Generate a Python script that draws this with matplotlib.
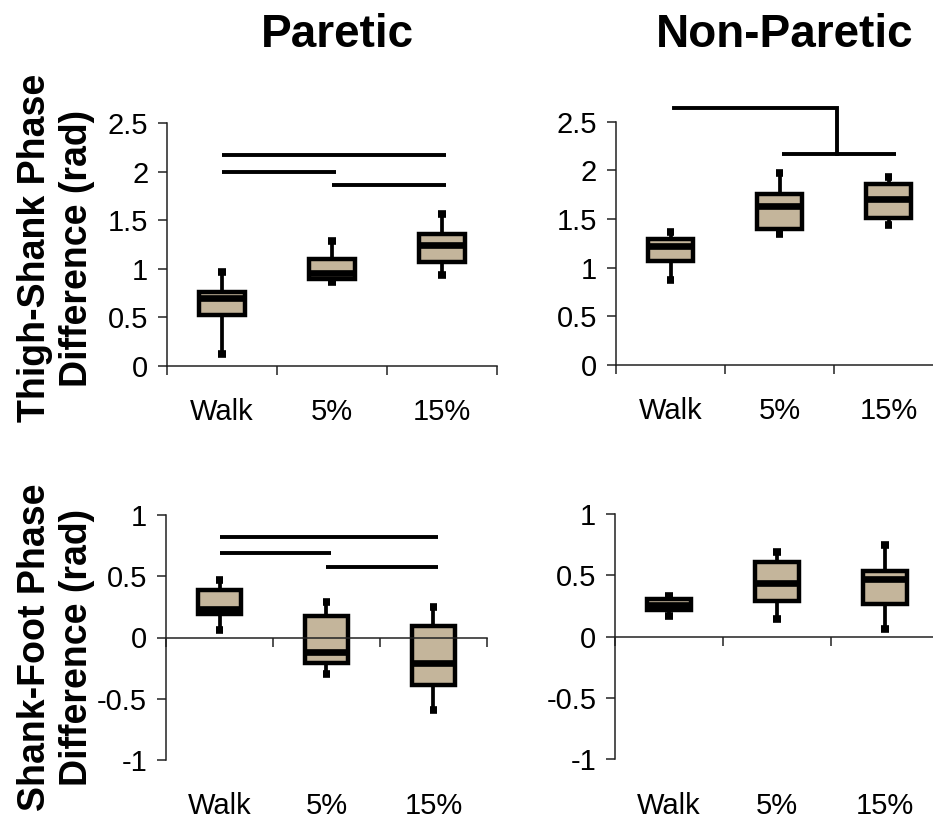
import matplotlib
matplotlib.use("Agg")
import matplotlib.pyplot as plt

plt.rcParams['font.family'] = ['Liberation Sans', 'DejaVu Sans']

# ---------------- data ----------------
conditions = ['Walk', '5%', '15%']

# box stats: (whislo, q1, median, q3, whishi)
ts_paretic_lo = [0.12, 0.86, 0.94]
ts_paretic_q1 = [0.52, 0.89, 1.07]
ts_paretic_med = [0.70, 0.96, 1.24]
ts_paretic_q3 = [0.76, 1.10, 1.36]
ts_paretic_hi = [0.97, 1.29, 1.56]

ts_nonparetic_lo = [0.87, 1.345, 1.44]
ts_nonparetic_q1 = [1.07, 1.40, 1.51]
ts_nonparetic_med = [1.22, 1.63, 1.71]
ts_nonparetic_q3 = [1.295, 1.755, 1.86]
ts_nonparetic_hi = [1.37, 1.97, 1.93]

sf_paretic_lo = [0.06, -0.30, -0.59]
sf_paretic_q1 = [0.19, -0.21, -0.39]
sf_paretic_med = [0.23, -0.12, -0.21]
sf_paretic_q3 = [0.39, 0.175, 0.09]
sf_paretic_hi = [0.47, 0.29, 0.25]

sf_nonparetic_lo = [0.17, 0.14, 0.063]
sf_nonparetic_q1 = [0.22, 0.29, 0.27]
sf_nonparetic_med = [0.26, 0.44, 0.47]
sf_nonparetic_q3 = [0.31, 0.61, 0.535]
sf_nonparetic_hi = [0.335, 0.69, 0.75]

# significance lines: (condition index a, condition index b, height)
sig_ts_paretic = [(0, 2, 2.17), (0, 1, 2.00), (1, 2, 1.86)]
sig_sf_paretic = [(0, 2, 0.818), (0, 1, 0.687), (1, 2, 0.573)]
# bracket: Walk vs (5%, 15%)
bracket_ts_nonparetic_hi = 2.645
bracket_ts_nonparetic_lo = 2.165

ts_ticks = [0, 0.5, 1, 1.5, 2, 2.5]
ts_ticklabels = ['0', '0.5', '1', '1.5', '2', '2.5']
sf_ticks = [-1, -0.5, 0, 0.5, 1]
sf_ticklabels = ['-1', '-0.5', '0', '0.5', '1']

titles = ['Paretic', 'Non-Paretic']
ylabel_ts = 'Thigh-Shank Phase\nDifference (rad)'
ylabel_sf = 'Shank-Foot Phase\nDifference (rad)'

# ---------------- style ----------------
TAN = '#C4B59B'
W, H = 933, 819
fig = plt.figure(figsize=(W / 100, H / 100), dpi=100)


def px_axes(x0, y_top, x1, y_bot):
    return fig.add_axes([x0 / W, 1 - y_bot / H, (x1 - x0) / W, (y_bot - y_top) / H])


def make_stats(lo, q1, med, q3, hi):
    return [dict(whislo=a, q1=b, med=c, q3=d, whishi=e, fliers=[])
            for a, b, c, d, e in zip(lo, q1, med, q3, hi)]


def draw_panel(ax, stats, ylim, ticks, ticklabels, zero_axis):
    pos = [1, 2, 3]
    ax.bxp(stats, positions=pos, widths=0.41, patch_artist=True,
           showfliers=False, capwidths=0.065,
           boxprops=dict(facecolor=TAN, edgecolor='black', linewidth=3.2,
                         joinstyle='miter'),
           medianprops=dict(color='black', linewidth=4.8, solid_capstyle='butt'),
           whiskerprops=dict(color='black', linewidth=2.7),
           capprops=dict(color='black', linewidth=5.5, solid_capstyle='butt'))
    ax.set_xlim(0.5, 3.5)
    ax.set_ylim(*ylim)
    ax.set_xticks([0.5, 1.5, 2.5, 3.5])
    ax.set_xticklabels([])
    ax.set_yticks(ticks)
    ax.set_yticklabels(ticklabels)
    for s in ['top', 'right']:
        ax.spines[s].set_visible(False)
    for s in ['left', 'bottom']:
        ax.spines[s].set_linewidth(1.1)
        ax.spines[s].set_color('#222222')
    if zero_axis:
        ax.spines['bottom'].set_position(('data', 0))
    ax.tick_params(axis='both', direction='out', length=6.5, width=1.1, color='#222222')
    ax.tick_params(axis='y', labelsize=21, pad=7)
    for p, c in zip(pos, conditions):
        ax.text(p, -0.222, c, transform=ax.get_xaxis_transform(), ha='center',
                va='baseline', fontsize=21)
    ax.patch.set_visible(False)


ax_tl = px_axes(167, 123, 497, 366)
ax_tr = px_axes(616, 121.7, 943, 365)
ax_bl = px_axes(166, 515, 487, 760)
ax_br = px_axes(615, 514, 939, 759.3)

draw_panel(ax_tl, make_stats(ts_paretic_lo, ts_paretic_q1, ts_paretic_med, ts_paretic_q3, ts_paretic_hi),
           (0, 2.5), ts_ticks, ts_ticklabels, False)
draw_panel(ax_tr, make_stats(ts_nonparetic_lo, ts_nonparetic_q1, ts_nonparetic_med, ts_nonparetic_q3, ts_nonparetic_hi),
           (0, 2.5), ts_ticks, ts_ticklabels, False)
draw_panel(ax_bl, make_stats(sf_paretic_lo, sf_paretic_q1, sf_paretic_med, sf_paretic_q3, sf_paretic_hi),
           (-1, 1), sf_ticks, sf_ticklabels, True)
draw_panel(ax_br, make_stats(sf_nonparetic_lo, sf_nonparetic_q1, sf_nonparetic_med, sf_nonparetic_q3, sf_nonparetic_hi),
           (-1, 1), sf_ticks, sf_ticklabels, True)

# significance lines
for ax, sig in [(ax_tl, sig_ts_paretic), (ax_bl, sig_sf_paretic)]:
    for a, b, yv in sig:
        ax.plot([a + 1, b + 1.04], [yv, yv], color='black', lw=2.8,
                solid_capstyle='butt', clip_on=False)

# bracket on non-paretic thigh-shank
xa = 1.03
xb_mid = (2 + 3) / 2 + 0.03
ax_tr.plot([xa, xb_mid, xb_mid], [bracket_ts_nonparetic_hi, bracket_ts_nonparetic_hi,
                                  bracket_ts_nonparetic_lo],
           color='black', lw=2.8, solid_joinstyle='miter', clip_on=False)
ax_tr.plot([2.02, 3.07], [bracket_ts_nonparetic_lo, bracket_ts_nonparetic_lo],
           color='black', lw=2.8, solid_capstyle='butt', clip_on=False)

# titles
fig.text(337 / W, 1 - 47 / H, titles[0], ha='center', va='baseline', fontsize=33,
         fontweight='bold', family=['Liberation Sans Narrow', 'Liberation Sans'])
fig.text(785 / W, 1 - 47 / H, titles[1], ha='center', va='baseline', fontsize=33,
         fontweight='bold', family=['Liberation Sans Narrow', 'Liberation Sans'])

# y labels
fig.text(56 / W, 1 - 248 / H, ylabel_ts, rotation=90, ha='center', va='center',
         fontsize=27, fontweight='bold', multialignment='center')
fig.text(56 / W, 1 - 647 / H, ylabel_sf, rotation=90, ha='center', va='center',
         fontsize=27, fontweight='bold', multialignment='center')

fig.savefig('out.png', dpi=100)
